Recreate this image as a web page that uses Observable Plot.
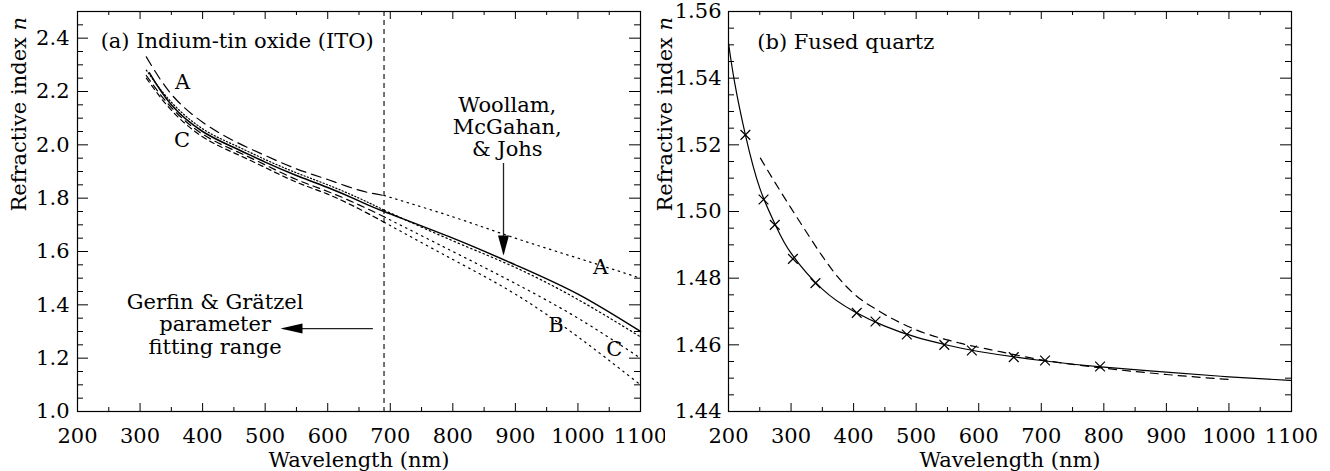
<!DOCTYPE html>
<html><head><meta charset="utf-8">
<script src="https://cdn.jsdelivr.net/npm/d3@7"></script>
<script src="https://cdn.jsdelivr.net/npm/@observablehq/plot@0.6"></script>
<style>
body{margin:0;background:#fff}
#wrap{display:flex;width:1330px;height:471px;overflow:hidden}
#wrap svg{overflow:visible}
#wrap text, #wrap tspan{font-family:"DejaVu Serif", serif !important; font-size:21px}
#wrap tspan.it{font-style:italic}
</style></head><body><div id="wrap"></div>
<script>
// ---------- Panel (a): ITO ----------
const itoLambdaFit = [310, 350, 400, 450, 500, 550, 600, 650, 690];
const itoA_fit = [2.33, 2.19, 2.085, 2.015, 1.96, 1.91, 1.87, 1.83, 1.81];
const itoD_fit = [2.28, 2.16, 2.06, 2.00, 1.945, 1.895, 1.85, 1.80, 1.755];
const itoC_fit = [2.26, 2.14, 2.04, 1.98, 1.925, 1.87, 1.825, 1.775, 1.73];
const itoB_fit = [2.25, 2.13, 2.03, 1.97, 1.915, 1.86, 1.815, 1.76, 1.71];
const itoLambdaExt = [690, 800, 900, 1000, 1100];
const itoA_ext = [1.81, 1.73, 1.65, 1.575, 1.50];
const itoD_ext = [1.755, 1.64, 1.54, 1.42, 1.28];
const itoC_ext = [1.73, 1.60, 1.48, 1.35, 1.20];
const itoB_ext = [1.71, 1.57, 1.44, 1.28, 1.10];
const woollamLambda = [315, 350, 400, 450, 500, 550, 600, 650, 690, 800, 900, 1000, 1100];
const woollamN = [2.27, 2.15, 2.05, 1.99, 1.935, 1.885, 1.84, 1.79, 1.75, 1.65, 1.55, 1.44, 1.30];
const fitRangeLimit = [690];

// ---------- Panel (b): fused quartz ----------
const quartzLambda = [200, 210, 227, 250, 275, 300, 350, 400, 450, 500, 550, 600, 700, 800, 900, 1000, 1100];
const quartzN = [1.5505, 1.5385, 1.523, 1.507, 1.496, 1.4875, 1.4767, 1.4701, 1.4656, 1.4623, 1.4599, 1.4580, 1.4553, 1.4533, 1.4518, 1.4504, 1.4493];
const measLambda = [227, 256, 274, 303, 339, 405, 435, 485, 545, 589, 656, 706, 794];
const measN = [1.523, 1.5036, 1.496, 1.4858, 1.4785, 1.4696, 1.467, 1.4631, 1.4600, 1.4583, 1.4563, 1.4553, 1.4535];
const fitLambda = [251, 275, 300, 325, 350, 375, 400, 440, 500, 570, 620, 700, 800, 900, 1000];
const fitN = [1.5160, 1.5085, 1.5010, 1.4937, 1.4866, 1.4803, 1.4754, 1.4702, 1.4645, 1.4605, 1.4585, 1.4555, 1.4530, 1.4511, 1.4496];

// ---------- Ticks ----------
const xMajor = [200, 300, 400, 500, 600, 700, 800, 900, 1000, 1100];
const xMinor = [250, 350, 450, 550, 650, 750, 850, 950, 1050];
const yMajorA = [1.0, 1.2, 1.4, 1.6, 1.8, 2.0, 2.2, 2.4];
const yMinorA = [1.05, 1.1, 1.15, 1.25, 1.3, 1.35, 1.45, 1.5, 1.55, 1.65, 1.7, 1.75, 1.85, 1.9, 1.95, 2.05, 2.1, 2.15, 2.25, 2.3, 2.35, 2.45];
const yMajorB = [1.44, 1.46, 1.48, 1.50, 1.52, 1.54, 1.56];
const yMinorB = [1.445, 1.45, 1.455, 1.465, 1.47, 1.475, 1.485, 1.49, 1.495, 1.505, 1.51, 1.515, 1.525, 1.53, 1.535, 1.545, 1.55, 1.555];

// ---------- Annotations ----------
const titleA = [{x: 237, y: 2.365, t: "(a) Indium-tin oxide (ITO)"}];
const curveLabelsA = [
  {x: 368, y: 2.211, t: "A"},
  {x: 367, y: 1.991, t: "C"},
  {x: 1036, y: 1.516, t: "A"},
  {x: 965, y: 1.297, t: "B"},
  {x: 1058, y: 1.21, t: "C"}
];
const woollamText = {x: 887, y: 1.958, t: "Woollam,\nMcGahan,\n& Johs"};
const gerfinText = {x: 420, y: 1.216, t: "Gerfin & Grätzel\nparameter\nfitting range"};
const woollamArrow = {x: 881, y1: 1.93, y2: 1.59, tip: 1.585};
const gerfinArrow = {y: 1.311, x1: 673, x2: 530, tip: 524.5};
const titleB = [{x: 246, y: 1.5488, t: "(b) Fused quartz"}];

const font = {background: "white", color: "black"};
const ytitle = "Refractive index n";
const xtitle = "Wavelength (nm)";

const downHead = {draw(c) { c.moveTo(0, 0); c.lineTo(-5.5, -20); c.lineTo(5.5, -20); c.closePath(); }};
const leftHead = {draw(c) { c.moveTo(0, 0); c.lineTo(22, -5); c.lineTo(22, 5); c.closePath(); }};

function tickMarks(W, H, yMajor, yMinor) {
  return [
    Plot.tickX(xMajor, {x: d => d, insetTop: H - 8, stroke: "black"}),
    Plot.tickX(xMajor, {x: d => d, insetBottom: H - 8, stroke: "black"}),
    Plot.tickX(xMinor, {x: d => d, insetTop: H - 4, stroke: "black"}),
    Plot.tickX(xMinor, {x: d => d, insetBottom: H - 4, stroke: "black"}),
    Plot.tickY(yMajor, {y: d => d, insetRight: W - 11, stroke: "black"}),
    Plot.tickY(yMajor, {y: d => d, insetLeft: W - 11, stroke: "black"}),
    Plot.tickY(yMinor, {y: d => d, insetRight: W - 6, stroke: "black"}),
    Plot.tickY(yMinor, {y: d => d, insetLeft: W - 6, stroke: "black"})
  ];
}
const pts = (xs, ys) => xs.map((x, i) => [x, ys[i]]);
const line = (xs, ys, dash, sw = 1.2, curve = "natural") => Plot.line(pts(xs, ys), {x: d => d[0], y: d => d[1], curve, stroke: "black", strokeWidth: sw, strokeDasharray: dash});

function italicN(svg) {
  svg.querySelectorAll("text").forEach(t => {
    if (t.textContent === ytitle) {
      t.textContent = "Refractive index ";
      const ts = document.createElementNS("http://www.w3.org/2000/svg", "tspan");
      ts.setAttribute("class", "it");
      ts.setAttribute("font-style", "italic");
      ts.textContent = "n";
      t.appendChild(ts);
    }
  });
  return svg;
}

const WA = 563, HA = 400;
const left = Plot.plot({
  width: 665, height: 471,
  marginLeft: 77, marginRight: 25, marginTop: 11, marginBottom: 60,
  style: font,
  x: {domain: [200, 1100]},
  y: {domain: [1.0, 2.5]},
  marks: [
    ...tickMarks(WA, HA, yMajorA, yMinorA),
    Plot.axisX(xMajor, {anchor: "bottom", tickSize: 0, tickPadding: 17, label: null, tickFormat: d => String(d)}),
    Plot.axisY(yMajorA, {anchor: "left", tickSize: 0, tickPadding: 8, label: null, tickFormat: d3.format(".1f")}),
    Plot.ruleX(fitRangeLimit, {x: d => d, stroke: "black", strokeWidth: 1.1, strokeDasharray: "5,4"}),
    line(itoLambdaFit, itoA_fit, "10,6"),
    line(itoLambdaFit, itoD_fit, "1.2,2.2"),
    line(itoLambdaFit, itoC_fit, "7,5"),
    line(itoLambdaFit, itoB_fit, "5,4"),
    line(itoLambdaExt, itoA_ext, "1.5,4.5"),
    line(itoLambdaExt, itoD_ext, "1.5,3"),
    line(itoLambdaExt, itoC_ext, "1.5,4.5"),
    line(itoLambdaExt, itoB_ext, "1.5,4.5"),
    line(woollamLambda, woollamN, null, 1.5),
    Plot.text(titleA, {x: "x", y: "y", text: "t", textAnchor: "start", lineAnchor: "bottom", fill: "black"}),
    Plot.text(curveLabelsA, {x: "x", y: "y", text: "t", textAnchor: "middle", lineAnchor: "bottom", fill: "black"}),
    Plot.text([woollamText], {x: "x", y: "y", text: "t", textAnchor: "middle", lineAnchor: "bottom", lineHeight: 1.05, fill: "black"}),
    Plot.text([gerfinText], {x: "x", y: "y", text: "t", textAnchor: "middle", lineAnchor: "bottom", lineHeight: 1.07, fill: "black"}),
    Plot.ruleX([woollamArrow], {x: "x", y1: "y1", y2: "y2", stroke: "#222", strokeWidth: 1.3}),
    Plot.dot([woollamArrow], {x: "x", y: "tip", symbol: downHead, fill: "black", stroke: "none", r: 5}),
    Plot.ruleY([gerfinArrow], {y: "y", x1: "x1", x2: "x2", stroke: "#222", strokeWidth: 1.3}),
    Plot.dot([gerfinArrow], {x: "tip", y: "y", symbol: leftHead, fill: "black", stroke: "none", r: 5}),
    Plot.frame({stroke: "black", strokeWidth: 1.2}),
    Plot.text([xtitle], {text: d => d, frameAnchor: "bottom", dy: 55, lineAnchor: "bottom", fill: "black"}),
    Plot.text([ytitle], {text: d => d, frameAnchor: "left", dx: -52, rotate: -90, lineAnchor: "bottom", fill: "black"})
  ]
});

const WB = 563, HB = 400;
const right = Plot.plot({
  width: 665, height: 471,
  marginLeft: 63, marginRight: 39, marginTop: 11, marginBottom: 60,
  style: font,
  x: {domain: [200, 1100]},
  y: {domain: [1.44, 1.56]},
  marks: [
    ...tickMarks(WB, HB, yMajorB, yMinorB),
    Plot.axisX(xMajor, {anchor: "bottom", tickSize: 0, tickPadding: 17, label: null, tickFormat: d => String(d)}),
    Plot.axisY(yMajorB, {anchor: "left", tickSize: 0, tickPadding: 7, label: null, tickFormat: d3.format(".2f")}),
    line(quartzLambda, quartzN, null, 1.2),
    line(fitLambda, fitN, "8,6", 1.2, "monotone-x"),
    Plot.dot(pts(measLambda, measN), {x: d => d[0], y: d => d[1], symbol: "times", r: 4.5, stroke: "black", strokeWidth: 1.2}),
    Plot.text(titleB, {x: "x", y: "y", text: "t", textAnchor: "start", lineAnchor: "bottom", fill: "black"}),
    Plot.frame({stroke: "black", strokeWidth: 1.2}),
    Plot.text([xtitle], {text: d => d, frameAnchor: "bottom", dy: 55, lineAnchor: "bottom", fill: "black"}),
    Plot.text([ytitle], {text: d => d, frameAnchor: "left", dx: -57, rotate: -90, lineAnchor: "bottom", fill: "black"})
  ]
});

const wrap = document.getElementById("wrap");
wrap.appendChild(italicN(left));
wrap.appendChild(italicN(right));
</script></body></html>
